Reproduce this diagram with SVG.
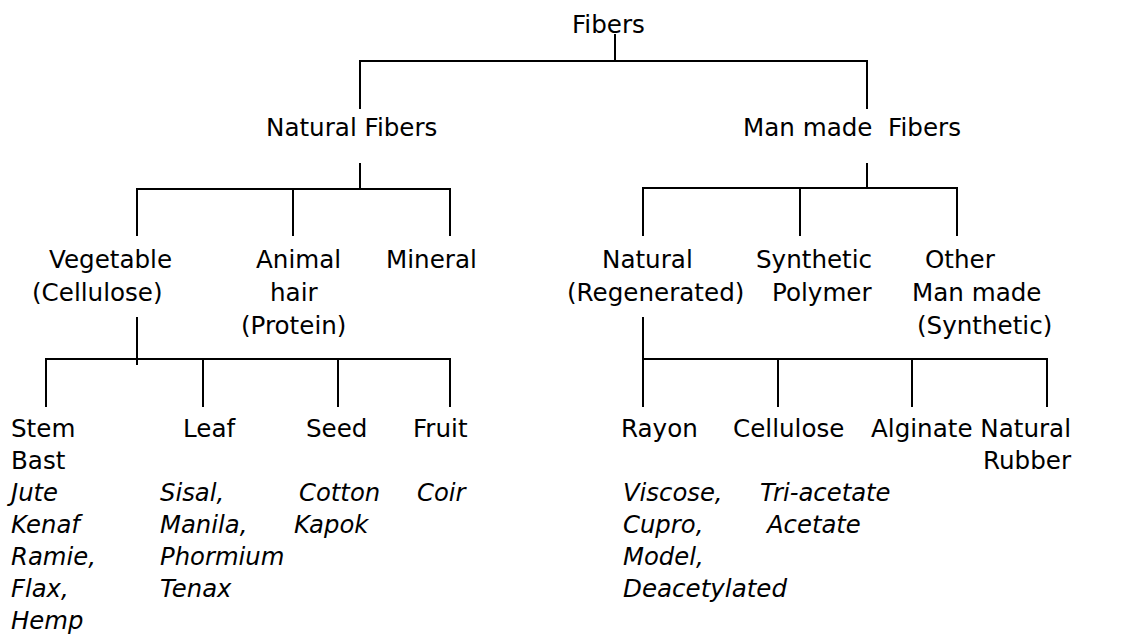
<svg xmlns="http://www.w3.org/2000/svg" width="1121" height="636" viewBox="0 0 1121 636">
<style>
text{font-family:"DejaVu Sans","Verdana",sans-serif;font-size:24.6px;fill:#000}
.i{font-style:italic;font-size:24.3px}
.c line{stroke:#000;stroke-width:2;stroke-linecap:square}
</style>
<rect width="1121" height="636" fill="#fff"/>
<g class="c" id="connectors">
<line x1="615" y1="35" x2="615" y2="61"/>
<line x1="360" y1="61" x2="867" y2="61"/>
<line x1="360" y1="61" x2="360" y2="108"/>
<line x1="867" y1="61" x2="867" y2="108"/>
<line x1="360" y1="164" x2="360" y2="189"/>
<line x1="137" y1="189" x2="450" y2="189"/>
<line x1="137" y1="189" x2="137" y2="235"/>
<line x1="293" y1="189" x2="293" y2="235"/>
<line x1="450" y1="189" x2="450" y2="235"/>
<line x1="867" y1="164" x2="867" y2="188"/>
<line x1="643" y1="188" x2="957" y2="188"/>
<line x1="643" y1="188" x2="643" y2="235"/>
<line x1="800" y1="188" x2="800" y2="235"/>
<line x1="957" y1="188" x2="957" y2="235"/>
<line x1="137" y1="318" x2="137" y2="364"/>
<line x1="46" y1="359" x2="450" y2="359"/>
<line x1="46" y1="359" x2="46" y2="406"/>
<line x1="203" y1="359" x2="203" y2="406"/>
<line x1="338" y1="359" x2="338" y2="406"/>
<line x1="450" y1="359" x2="450" y2="406"/>
<line x1="643" y1="318" x2="643" y2="406"/>
<line x1="643" y1="359" x2="1047" y2="359"/>
<line x1="778" y1="359" x2="778" y2="406"/>
<line x1="912" y1="359" x2="912" y2="406"/>
<line x1="1047" y1="359" x2="1047" y2="406"/>
</g>
<g id="fibers"><text x="572" y="33">Fibers</text></g>
<g id="natural-fibers"><text x="266" y="136">Natural Fibers</text></g>
<g id="man-made-fibers"><text x="743" y="136" xml:space="preserve">Man made  Fibers</text></g>
<g id="vegetable"><text x="49" y="268">Vegetable</text><text x="32" y="301">(Cellulose)</text></g>
<g id="animal"><text x="256" y="268">Animal</text><text x="270" y="301">hair</text><text x="241" y="334">(Protein)</text></g>
<g id="mineral"><text x="386" y="268">Mineral</text></g>
<g id="natural-regen"><text x="602" y="268">Natural</text><text x="567" y="301">(Regenerated)</text></g>
<g id="synthetic-polymer"><text x="756" y="268">Synthetic</text><text x="772" y="301">Polymer</text></g>
<g id="other"><text x="925" y="268">Other</text><text x="912" y="301">Man made</text><text x="917" y="334">(Synthetic)</text></g>
<g id="stem"><text x="11" y="437">Stem</text><text x="11" y="469">Bast</text>
<text class="i" x="11" y="501">Jute</text><text class="i" x="11" y="533">Kenaf</text><text class="i" x="11" y="565">Ramie,</text><text class="i" x="11" y="597">Flax,</text><text class="i" x="11" y="629">Hemp</text></g>
<g id="leaf"><text x="183" y="437">Leaf</text>
<text class="i" x="160" y="501">Sisal,</text><text class="i" x="160" y="533">Manila,</text><text class="i" x="160" y="565">Phormium</text><text class="i" x="160" y="597">Tenax</text></g>
<g id="seed"><text x="306" y="437">Seed</text>
<text class="i" x="299" y="501">Cotton</text><text class="i" x="294" y="533">Kapok</text></g>
<g id="fruit"><text x="413" y="437">Fruit</text><text class="i" x="417" y="501">Coir</text></g>
<g id="rayon"><text x="621" y="437">Rayon</text>
<text class="i" x="623" y="501">Viscose,</text><text class="i" x="623" y="533">Cupro,</text><text class="i" x="623" y="565">Model,</text><text class="i" x="623" y="597" textLength="164" lengthAdjust="spacingAndGlyphs">Deacetylated</text></g>
<g id="cellulose"><text x="733" y="437">Cellulose</text>
<text class="i" x="760" y="501">Tri-acetate</text><text class="i" x="767" y="533">Acetate</text></g>
<g id="alginate"><text x="871" y="437">Alginate</text></g>
<g id="natural-rubber"><text x="1071" y="437" text-anchor="end">Natural</text><text x="1071" y="469" text-anchor="end">Rubber</text></g>
</svg>
